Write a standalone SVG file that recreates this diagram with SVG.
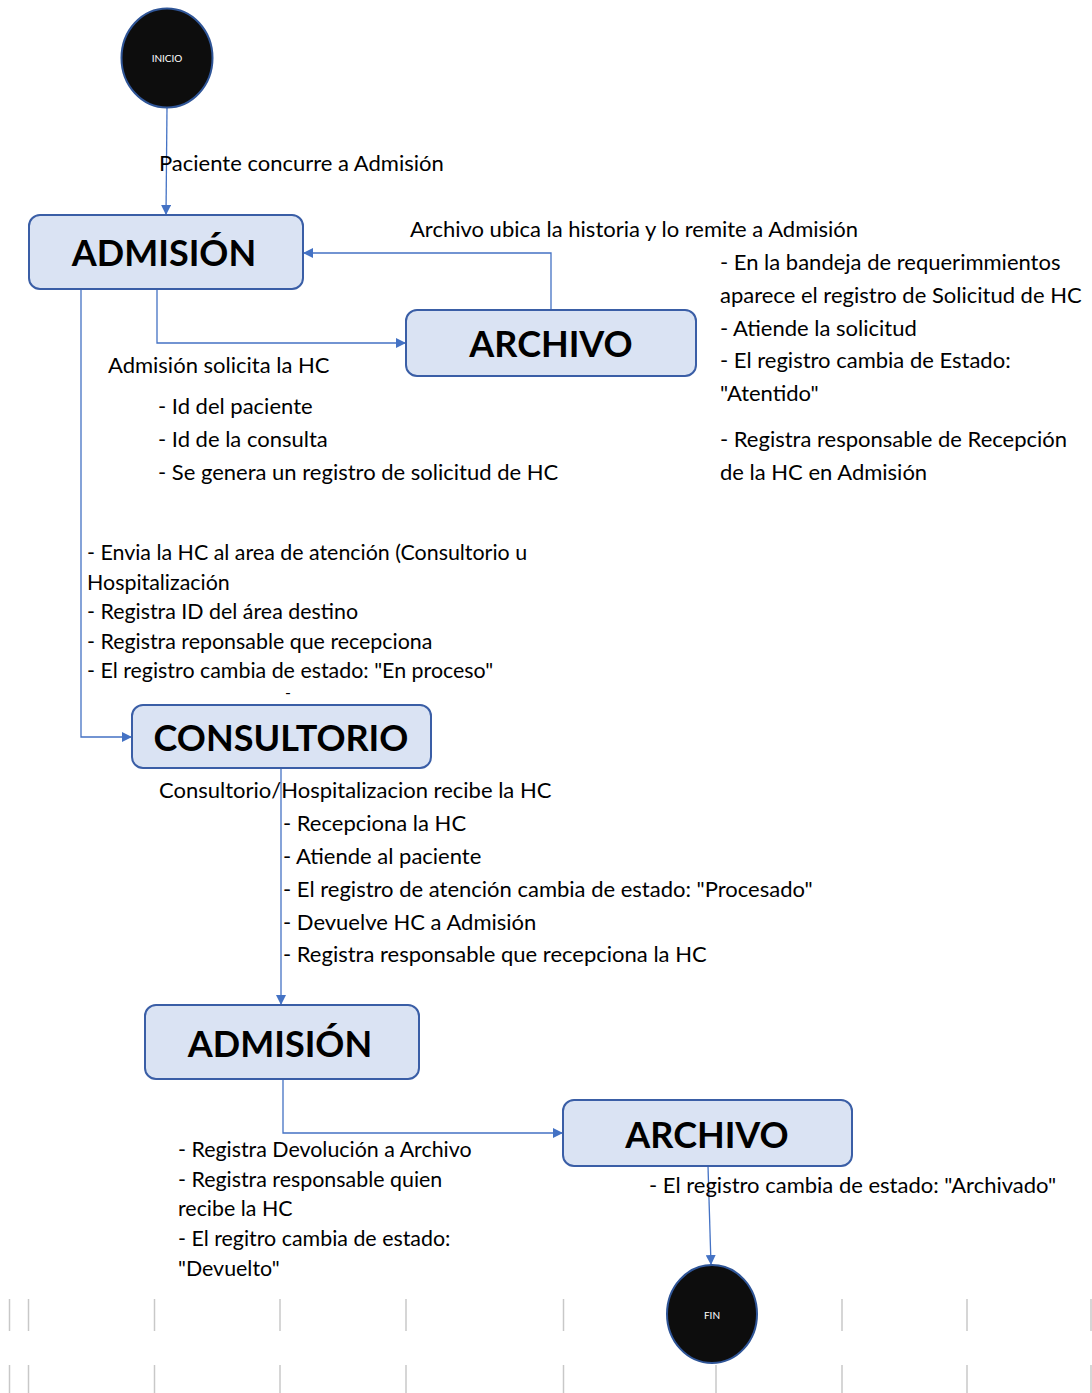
<svg xmlns="http://www.w3.org/2000/svg" width="1092" height="1393" viewBox="0 0 1092 1393">
<defs>
<style>
.box{fill:#dae3f3;stroke:#3a5ea6;stroke-width:2}
.ttl{font-family:Lato,"Liberation Sans",sans-serif;font-weight:bold;font-size:36px;fill:#000;text-anchor:middle}
.t{font-family:Lato,"Liberation Sans",sans-serif;font-size:22px;fill:#000}
.n{font-size:21.4px}
.circ{fill:#0d0d0d;stroke:#2f5597;stroke-width:2}
.ct{font-family:Lato,"Liberation Sans",sans-serif;font-size:10px;fill:#fff;text-anchor:middle}
.c{fill:none;stroke:#4472c4;stroke-width:1.3}
.g{stroke:#c8c8c8;stroke-width:1.5}
</style>
<marker id="ah" viewBox="0 0 10 10" refX="10" refY="5" markerWidth="10" markerHeight="10" markerUnits="userSpaceOnUse" orient="auto">
<path d="M0,0 L10,5 L0,10 z" fill="#4472c4"/>
</marker>
</defs>
<rect width="1092" height="1393" fill="#fff"/>
<g id="grid">
<g class="g">
<line x1="9.5" y1="1299" x2="9.5" y2="1331"/><line x1="28.5" y1="1299" x2="28.5" y2="1331"/><line x1="154.5" y1="1299" x2="154.5" y2="1331"/><line x1="280" y1="1299" x2="280" y2="1331"/><line x1="406" y1="1299" x2="406" y2="1331"/><line x1="563.5" y1="1299" x2="563.5" y2="1331"/><line x1="842" y1="1299" x2="842" y2="1331"/><line x1="967" y1="1299" x2="967" y2="1331"/><line x1="1091" y1="1299" x2="1091" y2="1331"/>
<line x1="9.5" y1="1365" x2="9.5" y2="1393"/><line x1="28.5" y1="1365" x2="28.5" y2="1393"/><line x1="154.5" y1="1365" x2="154.5" y2="1393"/><line x1="280" y1="1365" x2="280" y2="1393"/><line x1="406" y1="1365" x2="406" y2="1393"/><line x1="563.5" y1="1365" x2="563.5" y2="1393"/><line x1="716" y1="1365" x2="716" y2="1393"/><line x1="842" y1="1365" x2="842" y2="1393"/><line x1="967" y1="1365" x2="967" y2="1393"/><line x1="1091" y1="1365" x2="1091" y2="1393"/>
</g>
</g>
<g id="connectors">
<path class="c" d="M167,107 L166,215" marker-end="url(#ah)"/>
<path class="c" d="M551,310 L551,253 L303,253" marker-end="url(#ah)"/>
<path class="c" d="M157,289 L157,343 L406,343" marker-end="url(#ah)"/>
<path class="c" d="M81,289 L81,737 L132,737" marker-end="url(#ah)"/>
<path class="c" d="M281,768 L281,1005" marker-end="url(#ah)"/>
<path class="c" d="M283,1079 L283,1133 L563,1133" marker-end="url(#ah)"/>
<path class="c" d="M708,1166 L711,1265" marker-end="url(#ah)"/>
</g>
<g id="inicio">
<ellipse class="circ" cx="167" cy="58" rx="45.5" ry="49.5"/>
<text class="ct" x="167" y="62">INICIO</text>
</g>
<g id="admision1">
<rect class="box" x="29" y="215" width="274" height="74" rx="11"/>
<text class="ttl" x="164" y="266">ADMISIÓN</text>
</g>
<g id="archivo1">
<rect class="box" x="406" y="310" width="290" height="66" rx="11"/>
<text class="ttl" x="551" y="357">ARCHIVO</text>
</g>
<g id="consultorio">
<rect class="box" x="132" y="705" width="299" height="63" rx="11"/>
<text class="ttl" x="281" y="751">CONSULTORIO</text>
</g>
<g id="admision2">
<rect class="box" x="145" y="1005" width="274" height="74" rx="11"/>
<text class="ttl" x="280" y="1057">ADMISIÓN</text>
</g>
<g id="archivo2">
<rect class="box" x="563" y="1100" width="289" height="66" rx="11"/>
<text class="ttl" x="707" y="1148">ARCHIVO</text>
</g>
<g id="fin">
<ellipse class="circ" cx="712" cy="1314" rx="45" ry="49"/>
<text class="ct" x="712" y="1319">FIN</text>
</g>
<g id="labels">
<text class="t" x="159" y="171">Paciente concurre a Admisión</text>
<text class="t" x="410" y="237">Archivo ubica la historia y lo remite a Admisión</text>
<text class="t" x="720" y="270">- En la bandeja de requerimmientos</text>
<text class="t" x="720" y="303">aparece el registro de Solicitud de HC</text>
<text class="t" x="720" y="336">- Atiende la solicitud</text>
<text class="t" x="720" y="368">- El registro cambia de Estado:</text>
<text class="t" x="720" y="401">"Atentido"</text>
<text class="t" x="720" y="447">- Registra responsable de Recepción</text>
<text class="t" x="720" y="480">de la HC en Admisión</text>
<text class="t" x="108" y="373">Admisión solicita la HC</text>
<text class="t" x="158" y="414">- Id del paciente</text>
<text class="t" x="158" y="447">- Id de la consulta</text>
<text class="t" x="158" y="480">- Se genera un registro de solicitud de HC</text>
<text class="t n" x="87" y="560">- Envia la HC al area de atención (Consultorio u</text>
<text class="t n" x="87" y="590">Hospitalización</text>
<text class="t n" x="87" y="619">- Registra ID del área destino</text>
<text class="t n" x="87" y="649">- Registra reponsable que recepciona</text>
<text class="t n" x="87" y="678">- El registro cambia de estado: "En proceso"</text>
<text class="t" style="font-size:16px" x="285" y="698">-</text>
<text class="t" x="159" y="798">Consultorio/Hospitalizacion recibe la HC</text>
<text class="t" x="283" y="831">- Recepciona la HC</text>
<text class="t" x="283" y="864">- Atiende al paciente</text>
<text class="t" x="283" y="897">- El registro de atención cambia de estado: "Procesado"</text>
<text class="t" x="283" y="930">- Devuelve HC a Admisión</text>
<text class="t" x="283" y="962">- Registra responsable que recepciona la HC</text>
<text class="t n" x="178" y="1157">- Registra Devolución a Archivo</text>
<text class="t n" x="178" y="1187">- Registra responsable quien</text>
<text class="t n" x="178" y="1216">recibe la HC</text>
<text class="t n" x="178" y="1246">- El regitro cambia de estado:</text>
<text class="t n" x="178" y="1276">"Devuelto"</text>
<text class="t" x="649" y="1193">-  El registro cambia de estado: "Archivado"</text>
</g>
</svg>
